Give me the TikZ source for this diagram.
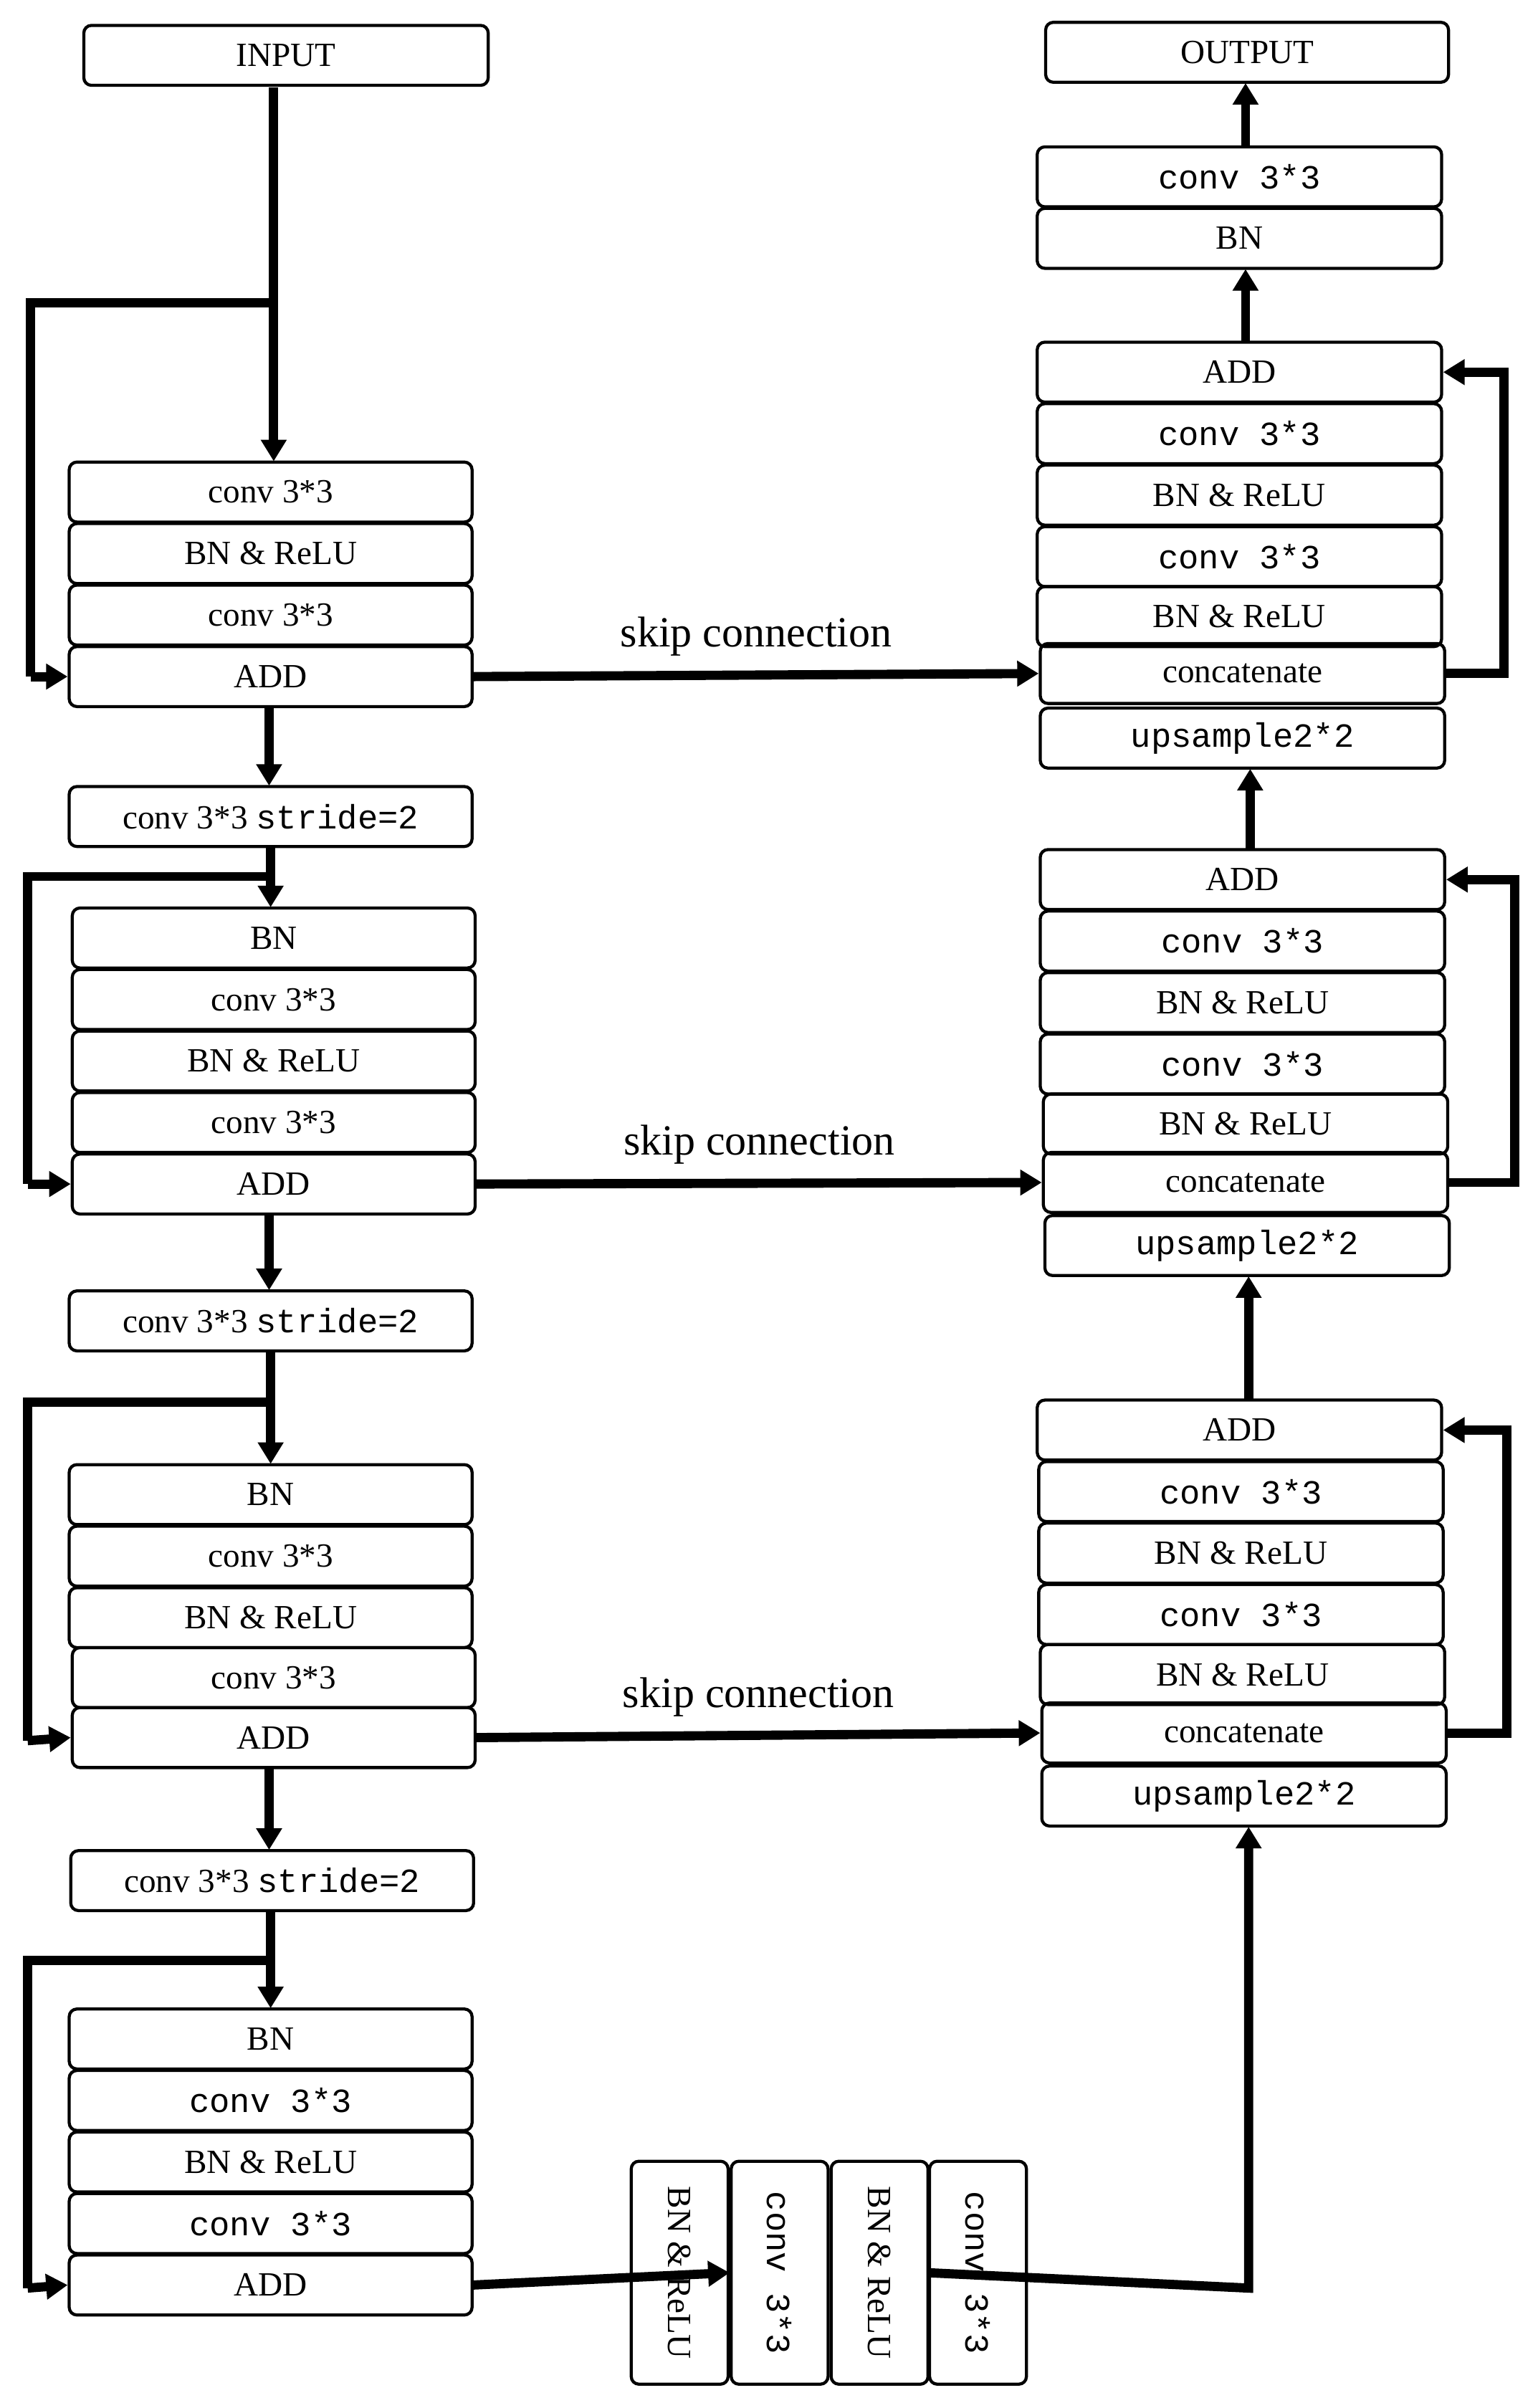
\documentclass[tikz,border=0pt]{standalone}
\usepackage{fontspec}
\setmainfont{Liberation Serif}
\newfontfamily\mono{Liberation Mono}
\usetikzlibrary{arrows.meta}
\begin{document}
\begin{tikzpicture}[x=1pt,y=-1pt,
 box/.style={draw,line width=2pt,rounded corners=5pt,minimum height=39pt,inner sep=0pt,font=\fontsize{22}{24}\selectfont},
 L/.style={box,minimum width=262pt},
 R/.style={box,minimum width=263pt},
 V/.style={box,rotate=-90,minimum width=145pt,minimum height=63pt},
 ar/.style={line width=6pt,-{Triangle[length=14pt,width=16pt]}},
 ln/.style={line width=6pt},
 lab/.style={font=\fontsize{28}{30}\selectfont}]
\useasboundingbox (0,0) rectangle (1000,1566);
% left
\node[box,minimum width=263pt] (in) at (186,36) {INPUT};
\node[L] (a1) at (176,320) {conv 3*3};
\node[L] (a2) at (176,360) {BN \& ReLU};
\node[L] (a3) at (176,400) {conv 3*3};
\node[L] (a4) at (176,440) {ADD};
\node[L] (s1) at (176,531) {conv 3*3 {\mono stride=2}};
\node[L] (b1) at (178,610) {BN};
\node[L] (b2) at (178,650) {conv 3*3};
\node[L] (b3) at (178,690) {BN \& ReLU};
\node[L] (b4) at (178,730) {conv 3*3};
\node[L] (b5) at (178,770) {ADD};
\node[L] (s2) at (176,859) {conv 3*3 {\mono stride=2}};
\node[L] (c1) at (176,972) {BN};
\node[L] (c2) at (176,1012) {conv 3*3};
\node[L] (c3) at (176,1052) {BN \& ReLU};
\node[L] (c4) at (178,1091) {conv 3*3};
\node[L] (c5) at (178,1130) {ADD};
\node[L] (s3) at (177,1223) {conv 3*3 {\mono stride=2}};
\node[L] (d1) at (176,1326) {BN};
\node[L] (d2) at (176,1366) {\mono conv 3*3};
\node[L] (d3) at (176,1406) {BN \& ReLU};
\node[L] (d4) at (176,1446) {\mono conv 3*3};
\node[L] (d5) at (176,1486) {ADD};
% bottom
\node[V] (v1) at (442,1478) {BN \& ReLU};
\node[V] (v2) at (507,1478) {\mono conv 3*3};
\node[V] (v3) at (572,1478) {BN \& ReLU};
\node[V] (v4) at (636,1478) {\mono conv 3*3};
% right
\node[box,minimum width=262pt] (out) at (811,34) {OUTPUT};
\node[R] (o1) at (806,115) {\mono conv 3*3};
\node[R] (o2) at (806,155) {BN};
\node[R] (e1) at (806,242) {ADD};
\node[R] (e2) at (806,282) {\mono conv 3*3};
\node[R] (e3) at (806,322) {BN \& ReLU};
\node[R] (e4) at (806,362) {\mono conv 3*3};
\node[R] (e5) at (806,401) {BN \& ReLU};
\node[R] (e6) at (808,438) {concatenate};
\node[R] (e7) at (808,480) {\mono upsample2*2};
\node[R] (f1) at (808,572) {ADD};
\node[R] (f2) at (808,612) {\mono conv 3*3};
\node[R] (f3) at (808,652) {BN \& ReLU};
\node[R] (f4) at (808,692) {\mono conv 3*3};
\node[R] (f5) at (810,731) {BN \& ReLU};
\node[R] (f6) at (810,769) {concatenate};
\node[R] (f7) at (811,810) {\mono upsample2*2};
\node[R] (g1) at (806,930) {ADD};
\node[R] (g2) at (807,970) {\mono conv 3*3};
\node[R] (g3) at (807,1010) {BN \& ReLU};
\node[R] (g4) at (807,1050) {\mono conv 3*3};
\node[R] (g5) at (808,1089) {BN \& ReLU};
\node[R] (g6) at (809,1127) {concatenate};
\node[R] (g7) at (809,1168) {\mono upsample2*2};
% left arrows
\coordinate (j0) at (178,197);
\draw[ar] (178,57) -- (178,300);
\draw[ln] (j0) -- (20,197) -- (20,440) coordinate (k0);
\draw[ar] (k0) -- (a4.west);
\draw[ar] (175,460) -- (175,511);
\draw[ar] (176,550) -- (176,590);
\draw[ln] (176,570) -- (18,570) -- (18,770) coordinate (k1);
\draw[ar] (k1) -- (b5.west);
\draw[ar] (175,790) -- (175,839);
\draw[ar] (176,878) -- (176,952);
\draw[ln] (176,912) -- (18,912) -- (18,1132) coordinate (k2);
\draw[ar] (k2) -- (c5.west);
\draw[ar] (175,1150) -- (175,1203);
\draw[ar] (176,1242) -- (176,1306);
\draw[ln] (176,1275) -- (18,1275) -- (18,1488) coordinate (k3);
\draw[ar] (k3) -- (d5.west);
% skip
\draw[ar] (a4.east) -- (e6.west) node[lab,midway,above=6pt] {skip connection};
\draw[ar] (b5.east) -- (f6.west) node[lab,midway,above=6pt] {skip connection};
\draw[ar] (c5.east) -- (g6.west) node[lab,midway,above=6pt] {skip connection};
\draw[ar] (d5.east) -- (v1.north);
% right loops
\draw[ar] (e6.east) -- (978,438) -- (978,242) -- (e1.east);
\draw[ar] (f6.east) -- (985,769) -- (985,572) -- (f1.east);
\draw[ar] (g6.east) -- (980,1127) -- (980,930) -- (g1.east);
% up arrows
\draw[ar] (v4.south) -- (812,1488) -- (812,1188);
\draw[ar] (812,910) -- (812,830);
\draw[ar] (813,552) -- (813,500);
\draw[ar] (810,222) -- (810,175);
\draw[ar] (810,95) -- (810,54);
\end{tikzpicture}
\end{document}
